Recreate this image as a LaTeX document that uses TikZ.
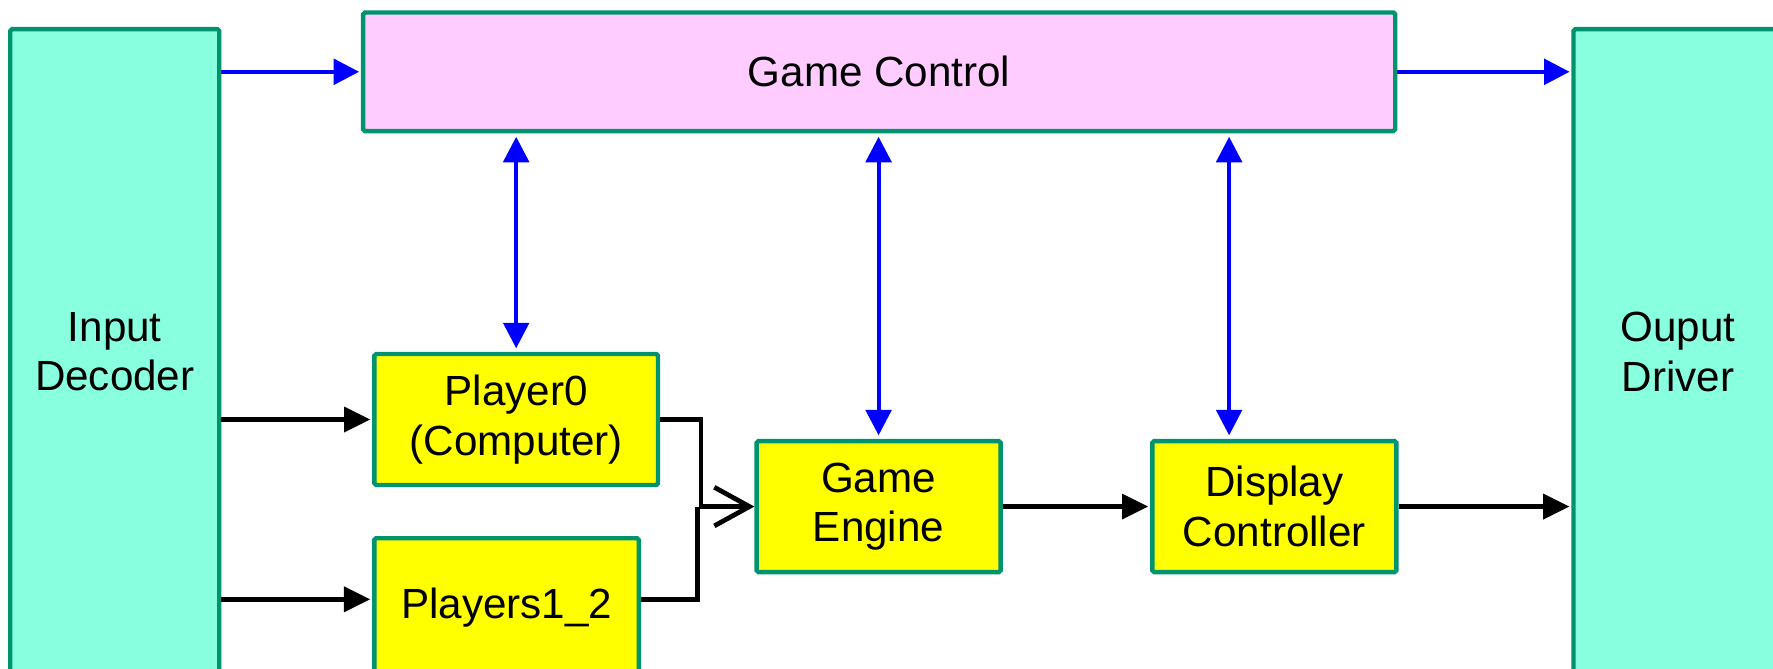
\documentclass[tikz,border=0pt]{standalone}
\usepackage{fontspec}
\setmainfont{Liberation Sans}
\usetikzlibrary{arrows.meta}
\definecolor{edgegreen}{RGB}{0,148,110}
\definecolor{sideaqua}{RGB}{136,255,222}
\definecolor{ctrlpink}{RGB}{255,204,255}
\definecolor{unityellow}{RGB}{255,255,0}
\begin{document}
\begin{tikzpicture}[x=0.022615cm,y=-0.022615cm]
\tikzstyle{block} = [draw=edgegreen, line width=2.5pt, rounded corners=1pt, align=center, inner sep=0pt, font=\fontsize{24}{28.3}\selectfont]
\tikzstyle{side} = [block, fill=sideaqua, minimum width=4.18cm, minimum height=12.9cm]
\tikzstyle{unit} = [block, fill=unityellow, minimum width=4.88cm, minimum height=2.62cm]
\tikzstyle{twoline} = [execute at begin node={\rule{0pt}{23pt}}]
\tikzstyle{bluearrow} = [draw=blue, line width=2.3pt, -{Triangle[length=14.5pt,width=14.5pt]}, shorten >=1pt]
\tikzstyle{bothways} = [draw=blue, line width=2.3pt, {Triangle[length=14.5pt,width=14.5pt]}-{Triangle[length=14.5pt,width=14.5pt]}, shorten >=2pt, shorten <=2pt]
\tikzstyle{flow} = [draw=black, line width=2.7pt, -{Triangle[length=15pt,width=14pt]}, shorten >=1pt]
\tikzstyle{wire} = [draw=black, line width=2.7pt]
\clip (0,0) rectangle (1568,591);
\node[side] (decoder) at (101.5,311) {Input\\Decoder};
\node[side] (driver) at (1484,311) {Ouput\\Driver};
\node[block, fill=ctrlpink, minimum width=20.64cm, minimum height=2.37cm] (control) at (777.5,63.5) {Game Control};
\node[unit, twoline, minimum width=5.67cm] (pzero) at (456.5,371) {Player0\\(Computer)};
\node[unit, minimum width=5.29cm, minimum height=2.76cm] (pmulti) at (448,537) {Players1\_2};
\node[unit, twoline] (engine) at (777,448) {Game\\Engine};
\node[unit, twoline] (display) at (1127,448) {Display\\Controller};
\coordinate (low) at (0,530);
\coordinate (tap) at (1087,0);
\coordinate (joinA) at (620,0);
\coordinate (joinB) at (617,0);
\draw[bluearrow] (control.west -| decoder.east) -- (control.west);
\draw[bluearrow] (control.east) -- (control.east -| driver.west);
\draw[bothways] (control.south -| pzero.north) -- (pzero.north);
\draw[bothways] (control.south -| engine.north) -- (engine.north);
\draw[bothways] (control.south -| tap) -- (display.north -| tap);
\draw[flow] (pzero.west -| decoder.east) -- (pzero.west);
\draw[flow] (decoder.east |- low) -- (pmulti.west |- low);
\draw[wire, -{Straight Barb[length=20pt,width=22pt]}] (pzero.east) -| (joinA |- engine.west) -- (engine.west);
\draw[wire] (pmulti.east |- low) -| (joinB |- engine.west);
\draw[flow] (engine.east) -- (display.west);
\draw[flow] (display.east) -- (display.east -| driver.west);
\end{tikzpicture}
\end{document}
